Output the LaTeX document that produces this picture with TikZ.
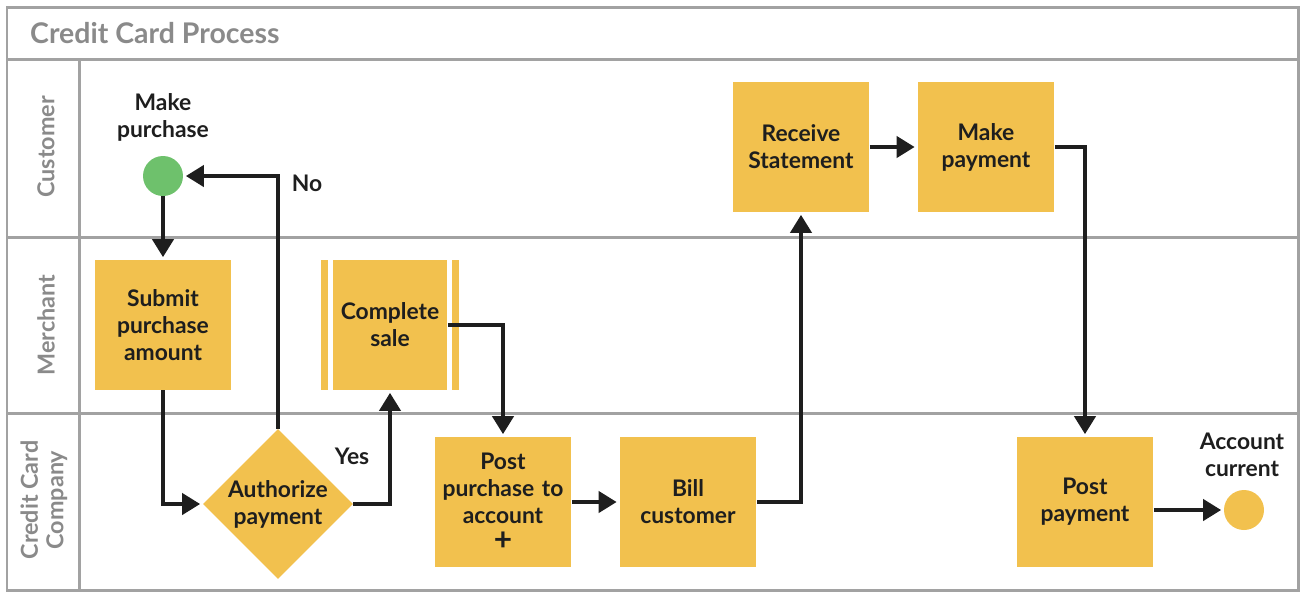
\documentclass[tikz,border=0pt]{standalone}
\usepackage{fontspec}
\setmainfont{Lato}
\usetikzlibrary{shapes.geometric,arrows.meta}

\definecolor{cardyellow}{HTML}{F2C14E}
\definecolor{startgreen}{HTML}{6EC16C}
\definecolor{lanegray}{HTML}{A2A2A2}
\definecolor{labelgray}{HTML}{8A8A8A}
\definecolor{inkblack}{HTML}{1E1E1E}

\tikzset{
  lane/.style={draw=lanegray,line width=0.06cm},
  lanelabel/.style={rotate=90,align=center,text=labelgray,font=\bfseries\fontsize{13.3}{14.5}\selectfont},
  task/.style={fill=cardyellow,minimum width=2.74cm,minimum height=2.6cm,text width=2.7cm,align=center,inner sep=0pt,text=inkblack,font=\bfseries\fontsize{13}{15.3}\selectfont},
  decide/.style={diamond,aspect=1,fill=cardyellow,minimum width=3cm,minimum height=3cm,inner sep=0pt,align=center,text=inkblack,font=\bfseries\fontsize{13}{15.3}\selectfont},
  event/.style={circle,minimum size=0.8cm,inner sep=0pt},
  note/.style={align=center,text=inkblack,font=\bfseries\fontsize{13}{15.3}\selectfont},
  flow/.style={draw=inkblack,line width=0.08cm,-{Triangle[length=0.36cm,width=0.42cm]},shorten >=0.05cm}
}

\begin{document}
\begin{tikzpicture}[x=0.02cm,y=-0.02cm]
  \useasboundingbox (0,0) rectangle (1309,600);

  % swimlanes
  \draw[lane] (7,7) rectangle (1298,590);
  \draw[lane] (7,59) -- (1298,59);
  \draw[lane] (7,237) -- (1298,237);
  \draw[lane] (7,413) -- (1298,413);
  \draw[lane] (79,59) -- (79,590);

  \node[anchor=west,text=labelgray,font=\bfseries\fontsize{16.2}{18}\selectfont] (title) at (24,33) {Credit Card Process};
  \node[lanelabel] (customer) at (46,147) {Customer};
  \node[lanelabel] (merchant) at (46,325) {Merchant};
  \node[lanelabel] (company) at (44,500) {Credit Card\\Company};

  % steps
  \node[event,fill=startgreen] (start) at (163,176) {};
  \node[note] (startlbl) at (163,117) {Make\\purchase};
  \node[task] (submit) at (163,325) {Submit\\purchase\\amount};
  \node[decide] (auth) at (278,504) {Authorize\\payment};
  \node[task,minimum width=2.3cm,text width=2.3cm] (sale) at (390,325) {Complete\\sale};
  \fill[cardyellow] ([xshift=-0.08cm]sale.north west) rectangle ([xshift=-0.22cm]sale.south west);
  \fill[cardyellow] ([xshift=0.08cm]sale.north east) rectangle ([xshift=0.22cm]sale.south east);
  \node[task] (post) at (503,502) {Post\\purchase to\\account\\{\fontsize{18}{15.3}\selectfont +}};
  \node[task] (bill) at (688,502) {Bill\\customer};
  \node[task] (stmt) at (801,147) {Receive\\Statement};
  \node[task] (pay) at (986,147) {Make\\payment};
  \node[task] (postpay) at (1085,502) {Post\\payment};
  \node[event,fill=cardyellow] (done) at (1244,510) {};
  \node[note] (donelbl) at (1242,455) {Account\\current};
  \node[note] (nolbl) at (307,183) {No};
  \node[note] (yeslbl) at (352,456) {Yes};

  % connectors
  \draw[flow] (start) -- (submit);
  \draw[flow] (submit) |- (auth);
  \draw[flow] (auth) |- (start);
  \draw[flow] (auth) -| (sale);
  \draw[flow] (sale) -| (post);
  \draw[flow] (post) -- (bill);
  \draw[flow] (bill) -| (stmt);
  \draw[flow] (stmt) -- (pay);
  \draw[flow] (pay) -| (postpay);
  \draw[flow] (postpay.east |- done) -- (done);
\end{tikzpicture}
\end{document}
